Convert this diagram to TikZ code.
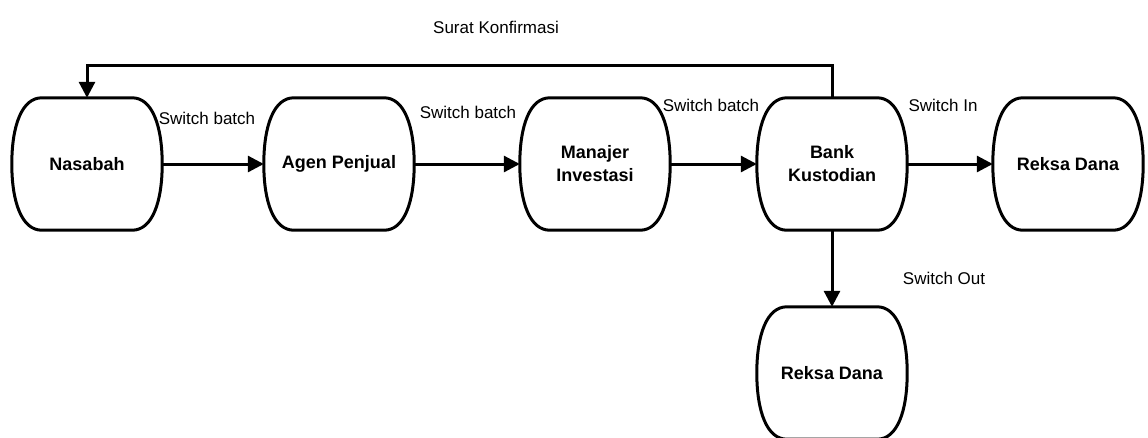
\documentclass[tikz,border=0pt]{standalone}
\usepackage{fontspec}
\setmainfont{Liberation Sans}
\usetikzlibrary{arrows.meta}
\tikzset{
  x=1pt,y=1pt,
  blob/.style={draw=none,shape=rectangle,minimum width=150pt,minimum height=132pt,inner sep=0pt,align=center,
    font=\fontsize{18}{23}\selectfont\bfseries},
  lbl/.style={inner sep=0pt,font=\fontsize{17}{20}\selectfont},
  conn/.style={line width=3pt,-{Triangle[length=16pt,width=16pt]}},
  outline/.style={line width=3pt,line join=round},
}
\newcommand{\blobshape}[1]{%
  \draw[outline] ([xshift=30pt]#1.north west) -- ([xshift=-30pt]#1.north east)
    .. controls ([xshift=-10pt]#1.north east) and ([yshift=-28pt]#1.north east) .. (#1.east)
    .. controls ([yshift=28pt]#1.south east) and ([xshift=-10pt]#1.south east) .. ([xshift=-30pt]#1.south east)
    -- ([xshift=30pt]#1.south west)
    .. controls ([xshift=10pt]#1.south west) and ([yshift=28pt]#1.south west) .. (#1.west)
    .. controls ([yshift=-28pt]#1.north west) and ([xshift=10pt]#1.north west) .. ([xshift=30pt]#1.north west)
    -- cycle;}
\begin{document}
\begin{tikzpicture}
\useasboundingbox (0,0) rectangle (1148,-437);
\fill[white] (0,0) rectangle (1148,-437);
\node[blob] (nas) at (87,-164) {Nasabah};
\node[blob] (agen) at (339,-164) {Agen Penjual};
\node[blob] (man) at (595,-164) {Manajer\\Investasi};
\node[blob] (bank) at (832,-164) {Bank\\Kustodian};
\node[blob] (rd1) at (1068,-164) {Reksa Dana};
\node[blob] (rd2) at (832,-373) {Reksa Dana};
\foreach \n in {nas,agen,man,bank,rd1,rd2} {\blobshape{\n}}
\coordinate (c1) at (832,-65);
\coordinate (c2) at (87,-65);
\draw[conn] (nas.east) -- (agen.west);
\draw[conn] (agen.east) -- (man.west);
\draw[conn] (man.east) -- (bank.west);
\draw[conn] (bank.east) -- (rd1.west);
\draw[conn] (bank.south) -- (rd2.north);
\draw[conn,line join=miter] (bank.north) -- (c1) -- (c2) -- (nas.north);
\node[lbl] (l0) at (496,-27) {Surat Konfirmasi};
\node[lbl] (l1) at (207,-118) {Switch batch};
\node[lbl] (l2) at (468,-112) {Switch batch};
\node[lbl] (l3) at (711,-105) {Switch batch};
\node[lbl] (l4) at (943,-105) {Switch In};
\node[lbl] (l5) at (944,-278) {Switch Out};
\end{tikzpicture}
\end{document}
